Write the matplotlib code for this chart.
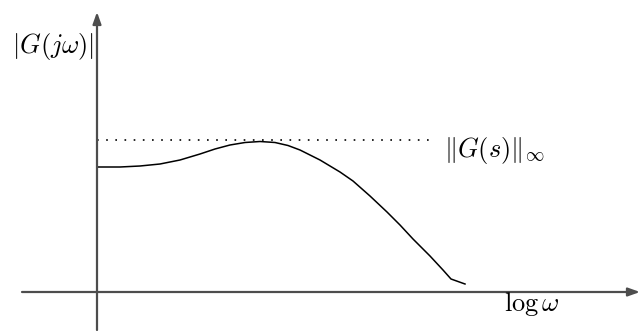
import matplotlib.pyplot as plt
import numpy as np

plt.rcParams['mathtext.fontset'] = 'cm'

# curve (pixel-like units, y grows downward)
curve_x = [97, 120, 140, 160, 180, 200, 215, 230, 245, 260, 275, 288, 300, 320,
           340, 353, 370, 387, 400, 413, 430, 443, 451, 465]
curve_y = [167, 167, 166, 164, 160, 154, 149, 145, 142.5, 141.5, 142.5, 145.5, 150, 160,
           172, 181, 196, 212, 225, 239, 256, 270, 279, 284]

# reference line for the H-infinity norm
norm_level = 140
norm_x = [97, 432]

# axes geometry
origin = (97, 292)
x_axis = [22, 640]
y_axis = [330, 12]

fig = plt.figure(figsize=(6.4, 3.31), dpi=100)
ax = fig.add_axes([0, 0, 1, 1])
ax.set_xlim(0, 640)
ax.set_ylim(331, 0)
ax.axis('off')

axis_col = '#4d4d4d'
ax.annotate('', xy=(x_axis[1], origin[1]), xytext=(x_axis[0], origin[1]),
            arrowprops=dict(arrowstyle='-|>,head_length=0.7,head_width=0.25',
                            color=axis_col, lw=1.6, shrinkA=0, shrinkB=0))
ax.annotate('', xy=(origin[0], y_axis[1]), xytext=(origin[0], y_axis[0]),
            arrowprops=dict(arrowstyle='-|>,head_length=0.7,head_width=0.25',
                            color=axis_col, lw=1.6, shrinkA=0, shrinkB=0))

ax.plot(norm_x, [norm_level, norm_level], color='black', lw=1.2,
        linestyle=(0, (1, 4.5)))
ax.plot(curve_x, curve_y, color='black', lw=1.1)

ax.text(94, 47, r'$|G(j\omega)|$', fontsize=19, ha='right', va='center')
ax.text(444, 150, r'$\|G(s)\|_\infty$', fontsize=19, ha='left', va='center')
ax.text(504, 304, r'$\log\omega$', fontsize=19, ha='left', va='center')

fig.savefig('out.png', dpi=100)
